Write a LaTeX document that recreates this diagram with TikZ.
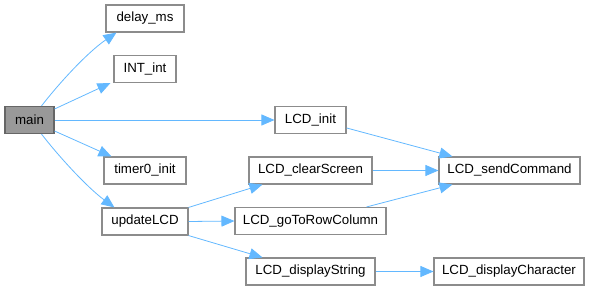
\documentclass[tikz,border=0pt]{standalone}
\usepackage{fontspec}
\setmainfont{Liberation Sans}
\usetikzlibrary{arrows.meta}
\definecolor{edgeblue}{HTML}{63B8FF}
\definecolor{boxline}{HTML}{8C8C8C}
\definecolor{rootline}{HTML}{666666}
\definecolor{rootfill}{HTML}{999999}

\begin{document}
\begin{tikzpicture}[x=1pt, y=-1pt, >={Triangle[length=13pt,width=11pt]},
    font=\fontsize{13.3}{15}\selectfont]
  \tikzset{fn/.style={draw=boxline, line width=1.1pt, fill=white, minimum height=27pt, inner sep=0pt},
           root/.style={fn, draw=rootline, fill=rootfill},
           call/.style={->, draw=edgeblue, line width=0.8pt}}
  \useasboundingbox (0,0) rectangle (590,291);
  % caller
  \node[root, minimum width=49pt] (main) at (29.5,120) {main};
  % first level
  \node[fn, minimum width=78pt] (delay) at (145,18.5) {delay\_ms};
  \node[fn, minimum width=62pt] (intint) at (145,69) {INT\_int};
  \node[fn, minimum width=82pt] (timer) at (145,170.5) {timer0\_init};
  \node[fn, minimum width=86pt] (update) at (145,221.5) {updateLCD};
  \node[fn, minimum width=71pt] (init) at (310.5,120) {LCD\_init};
  % second level
  \node[fn, minimum width=123pt] (clear) at (310.5,170.5) {LCD\_clearScreen};
  \node[fn, minimum width=151pt] (goto) at (310.5,221) {LCD\_goToRowColumn};
  \node[fn, minimum width=129pt] (dstring) at (310.5,271.5) {LCD\_displayString};
  % leaves
  \node[fn, minimum width=141pt] (sendcmd) at (509.5,170.5) {LCD\_sendCommand};
  \node[fn, minimum width=150pt] (dchar) at (509,271.5) {LCD\_displayCharacter};
  % calls from main
  \draw[call] ([xshift=12pt]main.north) .. controls (60,82) and (88,52) .. ([xshift=11pt]delay.south west);
  \draw[call] ([yshift=11pt]main.east) -- ([xshift=-3pt]intint.south west);
  \draw[call] (main.east) -- (init.west);
  \draw[call] ([yshift=-11pt]main.east) -- ([xshift=8pt]timer.north west);
  \draw[call] ([xshift=12pt]main.south) .. controls (60,158) and (88,188) .. ([xshift=13pt]update.north west);
  % calls from updateLCD
  \draw[call] (update.north east) -- ([xshift=14pt]clear.south west);
  \draw[call] (update.east) -- (goto.west);
  \draw[call] (update.south east) -- ([xshift=17pt]dstring.north west);
  % calls into the driver
  \draw[call] ([yshift=-22pt]init.north east) -- ([xshift=14pt]sendcmd.north west);
  \draw[call] (clear.east) -- (sendcmd.west);
  \draw[call] ([xshift=-20pt]goto.north east) -- ([xshift=14pt]sendcmd.south west);
  \draw[call] (dstring.east) -- (dchar.west);
\end{tikzpicture}
\end{document}
